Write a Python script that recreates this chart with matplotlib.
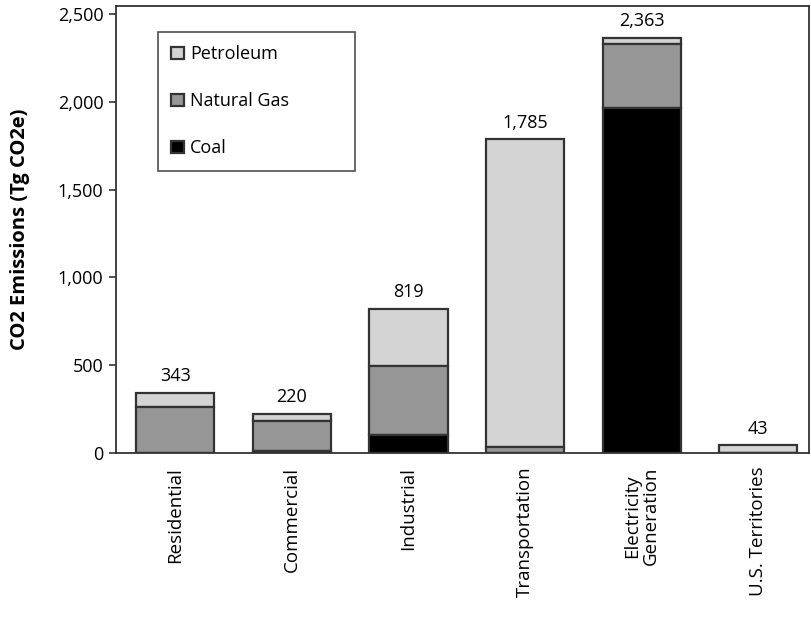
import matplotlib
matplotlib.use("Agg")
import matplotlib.pyplot as plt
import numpy as np

sectors = ["Residential", "Commercial", "Industrial", "Transportation",
           "Electricity\nGeneration", "U.S. Territories"]
coal = [1, 9, 102, 0, 1966, 0]
natural_gas = [263, 174, 393, 35, 362, 0]
petroleum = [79, 37, 324, 1750, 35, 43]
totals = [343, 220, 819, 1785, 2363, 43]
y_ticks = [0, 500, 1000, 1500, 2000, 2500]

plt.rcParams["font.family"] = ["Open Sans", "DejaVu Sans"]

fig = plt.figure(figsize=(8.11, 6.26), dpi=100)
ax = fig.add_axes([0.143, 0.2764, 0.855, 0.714])

x = np.arange(len(sectors))
w = 0.67
edge = "#333333"
coal_a = np.array(coal)
gas_a = np.array(natural_gas)
pet_a = np.array(petroleum)

ax.bar(x, pet_a, w, bottom=coal_a + gas_a, color="#d4d4d4",
       edgecolor=edge, linewidth=1.6, label="Petroleum")
ax.bar(x, gas_a, w, bottom=coal_a, color="#969696",
       edgecolor=edge, linewidth=1.6, label="Natural Gas")
ax.bar(x, coal_a, w, color="#000000",
       edgecolor=edge, linewidth=1.6, label="Coal")

for xi, t in zip(x, totals):
    ax.text(xi, t + 45, f"{t:,}", ha="center", va="bottom", fontsize=13)

ax.set_xlim(-0.51, 5.44)
ax.set_ylim(0, 2545)
ax.set_yticks(y_ticks)
ax.set_yticklabels([f"{v:,}" for v in y_ticks], fontsize=13)
ax.set_xticks(x)
ax.set_xticklabels(sectors, rotation=90, fontsize=13.5, ha="center",
                   va="top", linespacing=1.0)
ax.tick_params(axis="x", length=0, pad=10)
ax.tick_params(axis="y", length=5, width=1.2, color=edge, pad=4)
ax.set_ylabel("CO2 Emissions (Tg CO2e)", fontsize=14.5, fontweight="bold",
              labelpad=20)
for s in ax.spines.values():
    s.set_color(edge)
    s.set_linewidth(1.3)

leg = ax.legend(loc="upper left", bbox_to_anchor=(0.06, 0.638, 0.284, 0.304),
                mode="expand", fontsize=13, frameon=True, fancybox=False,
                edgecolor="#222222", handlelength=0.7, handleheight=0.7,
                handletextpad=0.35, labelspacing=1.6, borderpad=0.75,
                borderaxespad=0)
leg.get_frame().set_linewidth(1.2)

fig.savefig("out.png", dpi=100)
